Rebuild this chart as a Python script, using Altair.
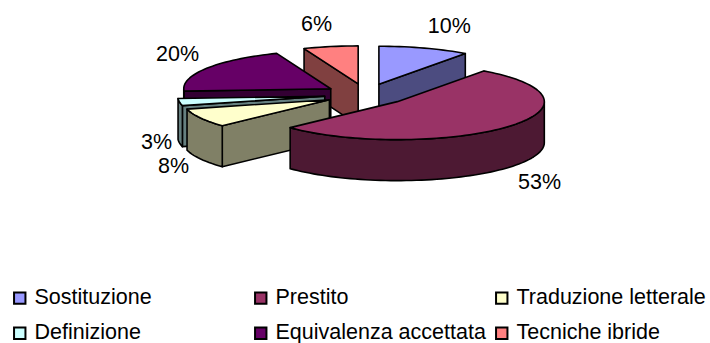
import numpy as np
import altair as alt

# Chart data: share of each translation technique, in percent
categories = ["Sostituzione", "Prestito", "Traduzione letterale",
              "Definizione", "Equivalenza accettata", "Tecniche ibride"]
values = [10, 53, 8, 3, 20, 6]
top_colors = ["#9999FF", "#993366", "#FFFFCC", "#CCFFFF", "#660066", "#FF8080"]
wall_colors = ["#4C4C80", "#4D1933", "#808066", "#668080", "#330033", "#804040"]

# Back-to-front order for the exploded slices
paint_order = [5, 0, 4, 3, 2, 1]

# Tilted pie layout, in pixels
CX, CY = 366.0, 94.5
RX, RY = 147.0, 38.0
DEPTH = 41.0
EXPLODE = 0.284

# Offsets of each percentage label from the rim of its slice
label_dx = [25, 32, -27, -23, -29, -14]
label_dy = [-21, 56, 49, 41, -13, -22]


def rim(ax, ay, deg):
    t = np.radians(deg)
    return [ax + RX * np.sin(t), ay - RY * np.cos(t)]


def arc(ax, ay, start, end, drop=0.0):
    steps = max(2, int(abs(end - start) / 2) + 1)
    pts = [rim(ax, ay, d) for d in np.linspace(start, end, steps)]
    return [[float(x), float(y + drop)] for x, y in pts]


def feature(part, ring):
    ring = [list(map(float, p)) for p in ring]
    ring.append(ring[0])
    return {"type": "Feature", "properties": {"part": part},
            "geometry": {"type": "Polygon", "coordinates": [ring]}}


bounds = np.concatenate([[0], np.cumsum(values)]) * 3.6
apexes = []
labels = []
for i, name in enumerate(categories):
    mid = (bounds[i] + bounds[i + 1]) / 2
    off = rim(0, 0, mid)
    ax, ay = CX + EXPLODE * off[0], CY + EXPLODE * off[1]
    apexes.append((ax, ay))
    lx, ly = rim(ax, ay, mid)
    labels.append({"x": lx + label_dx[i], "y": ly + label_dy[i],
                   "text": f"{values[i]}%"})

features = []
for i in paint_order:
    ax, ay = apexes[i]
    a0, a1 = bounds[i], bounds[i + 1]
    wall = f"{categories[i]} (lato)"
    # Radial faces that turn towards the viewer
    if np.sin(np.radians(a0)) < 0:
        p = rim(ax, ay, a0)
        features.append(feature(wall, [[ax, ay], p, [p[0], p[1] + DEPTH], [ax, ay + DEPTH]]))
    if np.sin(np.radians(a1)) > 0:
        p = rim(ax, ay, a1)
        features.append(feature(wall, [[ax, ay], p, [p[0], p[1] + DEPTH], [ax, ay + DEPTH]]))
    # Outer wall on the front half of the ellipse
    lo, hi = max(a0, 90.0), min(a1, 270.0)
    if hi > lo:
        features.append(feature(wall, arc(ax, ay, lo, hi) + arc(ax, ay, hi, lo, DEPTH)))
    # Top surface
    features.append(feature(categories[i], [[ax, ay]] + arc(ax, ay, a0, a1)))

FONT = "Liberation Sans"
domain = categories + [f"{c} (lato)" for c in categories]
colors = top_colors + wall_colors

pie = alt.Chart(alt.Data(values=features)).mark_geoshape(
    stroke="black", strokeWidth=1.6, strokeJoin="round"
).encode(
    color=alt.Color(
        "properties.part:N",
        scale=alt.Scale(domain=domain, range=colors),
        legend=alt.Legend(
            values=categories, title=None, orient="none",
            legendX=9, legendY=287, direction="horizontal", columns=3,
            gridAlign="all", columnPadding=5, rowPadding=12.5,
            symbolType="square", symbolSize=130, symbolStrokeWidth=2,
            symbolStrokeColor="black", labelFont=FONT, labelFontSize=21.5,
            labelColor="black", labelLimit=300, labelOffset=4,
        ),
    )
).project(type="identity", scale=1, translate=[0, 0])

pct = alt.Chart(alt.Data(values=labels)).mark_text(
    font=FONT, fontSize=21.5, color="black"
).encode(
    x=alt.X("x:Q", scale=None),
    y=alt.Y("y:Q", scale=None),
    text="text:N",
)

chart = alt.layer(pie, pct).properties(
    width=710, height=343, padding=0,
    autosize=alt.AutoSizeParams(type="none"),
).configure_view(stroke=None)

chart.save("out.html", embed_options={"renderer": "svg", "actions": False})
